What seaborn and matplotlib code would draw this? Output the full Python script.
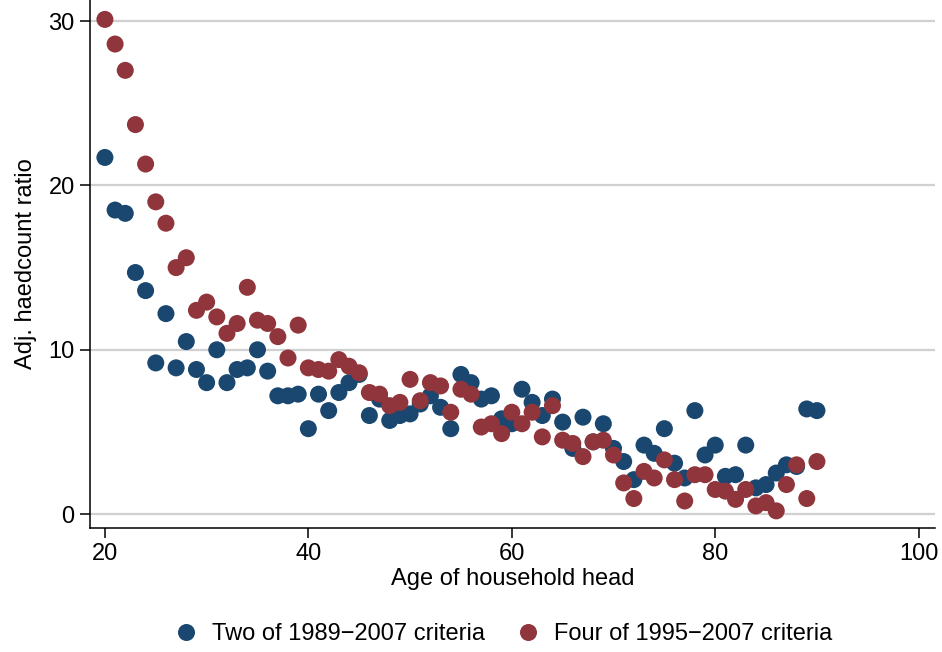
import numpy as np
import pandas as pd
import matplotlib
matplotlib.use("Agg")
import matplotlib.pyplot as plt
import seaborn as sns

# Age of household head, 20..90
ages = list(range(20, 91))

# Adjusted headcount ratio, two of 1989-2007 criteria
two_of_1989 = [
    21.7, 18.5, 18.3, 14.7, 13.6, 9.2, 12.2, 8.9, 10.5, 8.8,
    8.0, 10.0, 8.0, 8.8, 8.9, 10.0, 8.7, 7.2, 7.2, 7.3,
    5.2, 7.3, 6.3, 7.4, 8.0, 8.5, 6.0, 7.0, 5.7, 6.0,
    6.1, 6.7, 7.2, 6.5, 5.2, 8.5, 8.0, 7.0, 7.2, 5.8,
    5.5, 7.6, 6.8, 6.0, 7.0, 5.6, 4.0, 5.9, 4.4, 5.5,
    4.0, 3.2, 2.1, 4.2, 3.7, 5.2, 3.1, 2.2, 6.3, 3.6,
    4.2, 2.3, 2.4, 4.2, 1.6, 1.8, 2.5, 3.0, 2.9, 6.4,
    6.3,
]

# Adjusted headcount ratio, four of 1995-2007 criteria
four_of_1995 = [
    30.1, 28.6, 27.0, 23.7, 21.3, 19.0, 17.7, 15.0, 15.6, 12.4,
    12.9, 12.0, 11.0, 11.6, 13.8, 11.8, 11.6, 10.8, 9.5, 11.5,
    8.9, 8.8, 8.7, 9.4, 9.0, 8.6, 7.4, 7.3, 6.6, 6.8,
    8.2, 6.9, 8.0, 7.8, 6.2, 7.6, 7.3, 5.3, 5.5, 4.9,
    6.2, 5.5, 6.2, 4.7, 6.6, 4.5, 4.3, 3.5, 4.4, 4.5,
    3.6, 1.9, 0.95, 2.6, 2.2, 3.3, 2.1, 0.8, 2.4, 2.4,
    1.5, 1.4, 0.9, 1.5, 0.5, 0.7, 0.2, 1.8, 3.0, 0.95,
    3.2,
]

series_names = ["Two of 1989\u22122007 criteria", "Four of 1995\u22122007 criteria"]
series_colors = ["#1a476f", "#90353b"]

x_ticks = [20, 40, 60, 80, 100]
y_ticks = [0, 10, 20, 30]

df = pd.concat([
    pd.DataFrame({"age": ages, "ratio": two_of_1989, "criteria": series_names[0]}),
    pd.DataFrame({"age": ages, "ratio": four_of_1995, "criteria": series_names[1]}),
], ignore_index=True)

sns.set_style("white")
plt.rcParams["font.family"] = ["Liberation Sans Narrow", "Liberation Sans", "DejaVu Sans"]
plt.rcParams.update({
    "text.color": "black",
    "axes.labelcolor": "black",
    "xtick.color": "black",
    "ytick.color": "black",
})

fig = plt.figure(figsize=(9.42, 6.52), dpi=100)
ax = fig.add_axes([0.0955, 0.19, 0.897, 0.81])

for y in y_ticks:
    ax.axhline(y, color="#d0d0d0", lw=1.6, zorder=0)

sns.scatterplot(
    data=df, x="age", y="ratio", hue="criteria",
    palette=dict(zip(series_names, series_colors)),
    s=150, linewidth=0, alpha=1, ax=ax, zorder=3,
)

ax.set_xlim(18.53, 101.6)
ax.set_ylim(-0.85, 31.28)
ax.set_xticks(x_ticks)
ax.set_yticks(y_ticks)
ax.tick_params(axis="both", direction="out", length=7, width=1.1,
               color="black", labelcolor="black", labelsize=17, pad=4,
               bottom=True, left=True)

for side in ["top", "right"]:
    ax.spines[side].set_visible(False)
for side in ["left", "bottom"]:
    ax.spines[side].set_color("black")
    ax.spines[side].set_linewidth(1.1)

ax.set_xlabel("Age of household head", fontsize=17, labelpad=2)
ax.set_ylabel("Adj. haedcount ratio", fontsize=17, labelpad=8)

sns.move_legend(
    ax, "upper center", bbox_to_anchor=(0.482, -0.14), ncol=2,
    frameon=False, title=None, fontsize=17, markerscale=1.0,
    handletextpad=0.1, columnspacing=0.8,
)

fig.savefig("out.png", dpi=100, facecolor="white")
